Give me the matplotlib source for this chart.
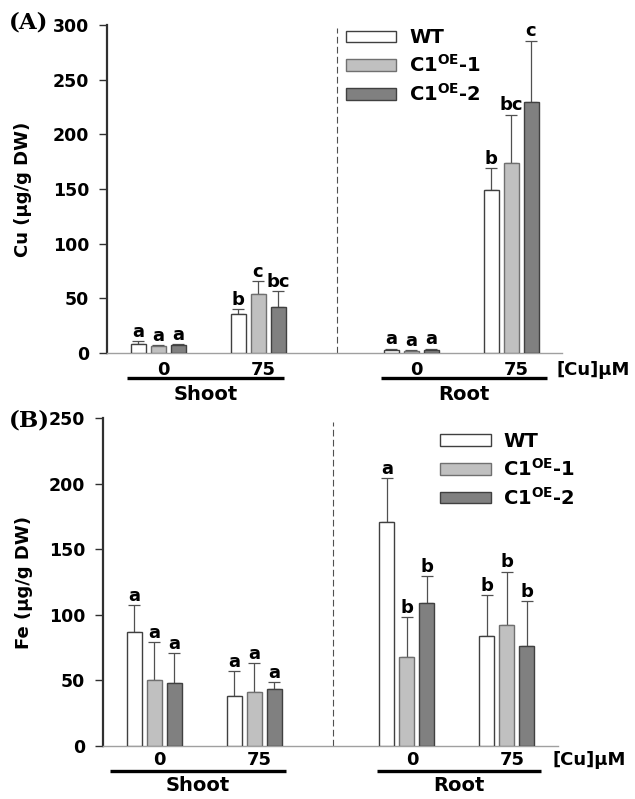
import matplotlib
matplotlib.use('Agg')
import matplotlib.pyplot as plt
import matplotlib.transforms as mtransforms
import numpy as np

plt.rcParams['font.family'] = ['DejaVu Sans']
plt.rcParams['font.weight'] = 'bold'
plt.rcParams['mathtext.fontset'] = 'dejavusans'

# categories
conc = ['0', '75', '0', '75']
tissue = ['Shoot', 'Root']
lines = ['WT', r'C1$^{\mathbf{OE}}$-1', r'C1$^{\mathbf{OE}}$-2']

# Cu content (ug/g DW): shoot 0, shoot 75, root 0, root 75
cu_wt = [8.2, 35.7, 2.8, 149]
cu_oe1 = [6.4, 54, 1.8, 173.5]
cu_oe2 = [7.3, 42.4, 2.8, 230]
cu_wt_err = [2.8, 4.3, 1.2, 20]
cu_oe1_err = [1.1, 11.6, 0.6, 44.5]
cu_oe2_err = [1.2, 14.6, 1.2, 55.7]
cu_wt_let = ['a', 'b', 'a', 'b']
cu_oe1_let = ['a', 'c', 'a', 'bc']
cu_oe2_let = ['a', 'bc', 'a', 'c']

# Fe content (ug/g DW)
fe_wt = [87.2, 38.4, 170.6, 83.9]
fe_oe1 = [50.3, 41.2, 68.1, 92]
fe_oe2 = [48.3, 43.2, 108.8, 76]
fe_wt_err = [20.3, 18.8, 33.8, 31.3]
fe_oe1_err = [28.7, 22.1, 30.5, 41]
fe_oe2_err = [22.7, 5.6, 21.1, 34.8]
fe_wt_let = ['a', 'a', 'a', 'b']
fe_oe1_let = ['a', 'a', 'b', 'b']
fe_oe2_let = ['a', 'a', 'b', 'b']

# layout
centers = np.array([2.55, 7.55, 15.2, 20.2])
offs = [-1, 0, 1]
width = 0.75
faces = ['white', '#c0c0c0', '#808080']
edges = ['#404040', '#707070', '#404040']

fig = plt.figure(figsize=(6.35, 7.99), dpi=100)


def panel(rect, means, errs, lets, ymax, ylabel, ylab_x, tag, leg_anchor, tag_y,
          line_ext, y_num, y_line, y_tis):
    ax = fig.add_axes(rect)
    handles = []
    for i in range(3):
        x = centers + offs[i]
        b = ax.bar(x, means[i], width, color=faces[i], edgecolor=edges[i],
                   linewidth=1, zorder=3)
        handles.append(b)
        ax.errorbar(x, means[i], yerr=[np.zeros(4), errs[i]], fmt='none',
                    ecolor='#505050', elinewidth=0.9, capsize=4, capthick=0.9,
                    zorder=2)
        for xx, m, e, l in zip(x, means[i], errs[i], lets[i]):
            ax.annotate(l, (xx, m + e), xytext=(0, 3), textcoords='offset points',
                        ha='center', va='baseline', fontsize=13, fontweight='bold')
    ax.set_xlim(0, 22.75)
    ax.set_ylim(0, ymax)
    ax.set_yticks(np.arange(0, ymax + 1, 50))
    ax.set_xticks([])
    for s in ['top', 'right']:
        ax.spines[s].set_visible(False)
    ax.spines['left'].set_color('#303030')
    ax.spines['left'].set_linewidth(1.6)
    ax.spines['bottom'].set_color('#a0a0a0')
    ax.spines['bottom'].set_linewidth(1.0)
    ax.tick_params(axis='y', direction='out', length=6, width=1, color='#303030',
                   pad=7, labelsize=12.5)
    for t in ax.get_yticklabels():
        t.set_fontweight('bold')
    ax.set_ylabel(ylabel, fontsize=13, fontweight='bold')
    ax.yaxis.set_label_coords(ylab_x, 0.5)
    ax.axvline(11.5, ymin=0, ymax=0.99, color='#505050', lw=0.8, ls=(0, (6, 3)))

    ax.legend(handles, lines, loc='upper left', bbox_to_anchor=leg_anchor,
              frameon=False, handlelength=2.6, handleheight=0.55,
              handletextpad=0.65, labelspacing=0.35, borderpad=0,
              borderaxespad=0, prop={'weight': 'bold', 'size': 14})

    tr = mtransforms.blended_transform_factory(ax.transData, ax.transAxes)
    for c, lab in zip(centers, conc):
        ax.text(c + 0.25, y_num, lab, transform=tr, ha='center', va='center',
                fontsize=13, fontweight='bold')
    for k, name in enumerate(tissue):
        x0, x1 = line_ext[k]
        ax.plot([x0, x1], [y_line, y_line], transform=tr, color='black', lw=2.4,
                clip_on=False, solid_capstyle='butt')
        ax.text((x0 + x1) / 2, y_tis, name, transform=tr, ha='center', va='center',
                fontsize=14, fontweight='bold')
    ax.text(0.987, y_num, '[Cu]\u03bcM', transform=ax.transAxes, ha='left',
            va='center', fontsize=13, fontweight='bold')
    fig.text(9 / 635, tag_y, tag, family='DejaVu Serif', fontsize=16.5,
             fontweight='bold', ha='left', va='center')
    return ax


panel([107 / 635, 1 - 353 / 799, 455 / 635, 328 / 799],
      [cu_wt, cu_oe1, cu_oe2], [cu_wt_err, cu_oe1_err, cu_oe2_err],
      [cu_wt_let, cu_oe1_let, cu_oe2_let], 300, 'Cu (\u03bcg/g DW)', -0.165, '(A)',
      (0.525, 0.99), 1 - 22 / 799, [(1.0, 8.85), (13.7, 22.0)],
      -0.052, -0.076, -0.125)

panel([103 / 635, 1 - 746 / 799, 455 / 635, 327.7 / 799],
      [fe_wt, fe_oe1, fe_oe2], [fe_wt_err, fe_oe1_err, fe_oe2_err],
      [fe_wt_let, fe_oe1_let, fe_oe2_let], 250, 'Fe (\u03bcg/g DW)', -0.154, '(B)',
      (0.741, 0.958), 1 - 420 / 799, [(0.35, 9.15), (13.7, 21.9)],
      -0.043, -0.076, -0.122)

fig.savefig('out.png', dpi=100)
